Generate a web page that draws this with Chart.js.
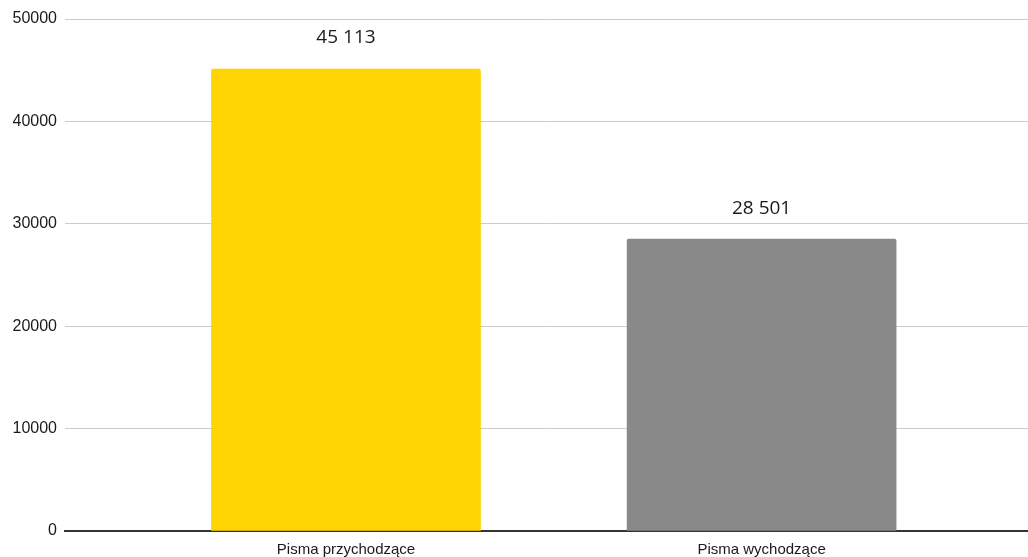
<!DOCTYPE html>
<html>
<head>
<meta charset="utf-8">
<script src="https://cdn.jsdelivr.net/npm/chart.js@4/dist/chart.umd.min.js"></script>
<style>
  html, body { margin: 0; padding: 0; background: #fff; }
  #wrap { width: 1028px; height: 557px; }
</style>
</head>
<body>
<div id="wrap"><canvas id="chart" width="1028" height="557"></canvas></div>
<script>
    'use strict';

    let categories = ['Pisma przychodzące', 'Pisma wychodzące']
    let values = [45113, 28501]
    let labels = ['45 113', '28 501']
    let colors = ['#FFD400', '#898989']
    let yTicks = [0, 10000, 20000, 30000, 40000, 50000]

    // bar labels above each bar
    let barLabels = {
        id: 'barLabels',
        afterDatasetsDraw: function (chart) {
            let ctx = chart.ctx
            let meta = chart.getDatasetMeta(0)
            ctx.save()
            ctx.font = '19px "Open Sans"'
            ctx.fillStyle = '#1a1a1a'
            ctx.textAlign = 'center'
            ctx.textBaseline = 'middle'
            meta.data.forEach(function (bar, i) {
                ctx.fillText(labels[i], bar.x, bar.y - 31)
            })
            ctx.restore()
        }
    }

    let data_1 = {
        datasets: [
            {
                data: categories.map(function (c, i) { return { x: i + 1, y: values[i] } }),
                backgroundColor: colors,
                borderWidth: 0,
                borderRadius: { topLeft: 2, topRight: 2 },
                borderSkipped: 'bottom',
                barThickness: 269
            }
        ]
    }

    let options = {
        responsive: false,
        animation: false,
        layout: { padding: { top: 19, right: 0, bottom: 0, left: 0 } },
        plugins: {
            legend: { display: false },
            tooltip: { enabled: false }
        },
        scales: {
            x: {
                type: 'linear',
                offset: false,
                bounds: 'data',
                min: 0.3239,
                max: 2.641,
                afterBuildTicks: function (scale) {
                    scale.ticks = categories.map(function (c, i) { return { value: i + 1 } })
                },
                afterFit: function (scale) { scale.height = 26 },
                ticks: {
                    autoSkip: false,
                    maxRotation: 0,
                    padding: 10,
                    color: '#1a1a1a',
                    font: { family: 'Liberation Sans', size: 15 },
                    callback: function (v) { return categories[v - 1] || '' }
                },
                grid: { display: false, drawTicks: false, offset: false },
                border: { display: true, color: '#333333', width: 2 }
            },
            y: {
                min: 0,
                max: 50000,
                afterBuildTicks: function (scale) {
                    scale.ticks = yTicks.map(function (v) { return { value: v } })
                },
                afterFit: function (scale) { scale.width = 65 },
                ticks: {
                    padding: 8,
                    color: '#1a1a1a',
                    font: { family: 'Liberation Sans', size: 16 },
                    callback: function (v) { return String(v) }
                },
                grid: {
                    drawTicks: false,
                    color: function (c) { return c.tick && c.tick.value === 0 ? 'rgba(0,0,0,0)' : '#cccccc' },
                    lineWidth: 1
                },
                border: { display: false }
            }
        }
    };

    let lineChartCanvas = document.getElementById('chart').getContext('2d')
    let chart = new Chart(lineChartCanvas, {
        type: 'bar',
        data: data_1,
        options: options,
        plugins: [barLabels]
    });
</script>
</body>
</html>
